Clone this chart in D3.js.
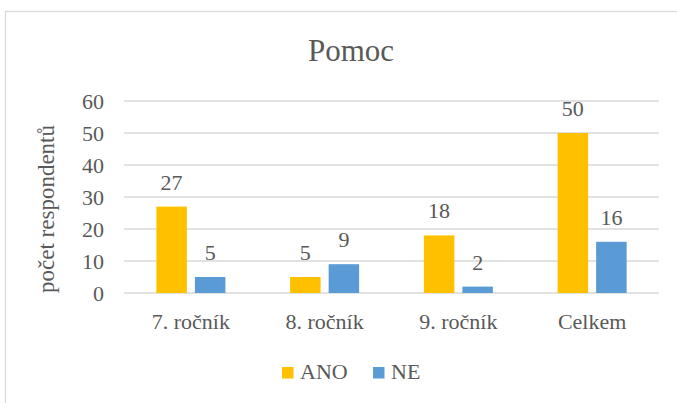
<!DOCTYPE html>
<html><head><meta charset="utf-8">
<script src="https://cdn.jsdelivr.net/npm/d3@7"></script>
<style>body{margin:0;background:#fff}svg{display:block}</style>
</head><body>
<script>
const categories = ["7. ročník", "8. ročník", "9. ročník", "Celkem"];
const seriesNames = ["ANO", "NE"];
const ano = [27, 5, 18, 50];
const ne = [5, 9, 2, 16];
const yTicks = [0, 10, 20, 30, 40, 50, 60];
const colors = ["#FFC000", "#5B9BD5"];
const title = "Pomoc";
const yTitle = "počet respondentů";

const TXT = "#595959";
const svg = d3.select("body").append("svg").attr("width", 677).attr("height", 403);
svg.append("rect").attr("x", 5.5).attr("y", 11.5).attr("width", 700).attr("height", 420)
  .attr("fill", "#fff").attr("stroke", "#D9D9D9").attr("stroke-width", 1.3);

const pL = 124, pR = 659, pT = 101, pB = 293;
const x = d3.scaleBand().domain(categories).range([pL, pR]);
const y = d3.scaleLinear().domain([0, 60]).range([pB, pT]);
const bw = x.bandwidth() * 0.228, gap = x.bandwidth() * 0.06;

svg.append("g").selectAll("line").data(yTicks).join("line")
  .attr("x1", pL).attr("x2", pR).attr("y1", d => y(d)).attr("y2", d => y(d))
  .attr("stroke", "#D9D9D9").attr("stroke-width", 1.3);

const gy = svg.append("g").attr("transform", `translate(${pL},0)`)
  .call(d3.axisLeft(y).tickValues(yTicks).tickSize(0).tickPadding(20));
gy.select(".domain").remove();
gy.selectAll("text").attr("dy", "0.35em").attr("class", "t22");

const gx = svg.append("g").attr("transform", `translate(0,${pB})`)
  .call(d3.axisBottom(x).tickSize(0).tickPadding(0));
gx.select(".domain").remove();
gx.selectAll("text").attr("dy", null).attr("y", 36).attr("class", "t22");

[ano, ne].forEach((vals, si) => {
  const off = si === 0 ? -gap / 2 - bw : gap / 2;
  const g = svg.append("g");
  g.selectAll("rect").data(vals).join("rect")
    .attr("x", (d, i) => x(categories[i]) + x.bandwidth() / 2 + off)
    .attr("width", bw)
    .attr("y", d => y(d)).attr("height", d => y(0) - y(d))
    .attr("fill", colors[si]);
  g.selectAll("text").data(vals).join("text")
    .attr("x", (d, i) => x(categories[i]) + x.bandwidth() / 2 + off + bw / 2)
    .attr("y", d => y(d) - 17)
    .attr("text-anchor", "middle").attr("class", "t22").text(d => d);
});

svg.append("text").attr("x", 351).attr("y", 61).attr("text-anchor", "middle")
  .attr("class", "t31").text(title);

svg.append("text").attr("transform", "translate(54,209) rotate(-90)")
  .attr("text-anchor", "middle").attr("class", "t23").text(yTitle);

const legX = [282, 373];
seriesNames.forEach((n, i) => {
  svg.append("rect").attr("x", legX[i]).attr("y", 367).attr("width", 11.5).attr("height", 11.5).attr("fill", colors[i]);
  svg.append("text").attr("x", legX[i] + 18).attr("y", 379).attr("class", "t22").text(n);
});

svg.selectAll("text").each(function () {
  const el = d3.select(this);
  const cls = el.attr("class");
  const size = cls === "t31" ? 31 : cls === "t23" ? 23 : 22;
  el.attr("fill", null)
    .style("font-family", `"Liberation Serif"`)
    .style("font-size", size + "px")
    .style("fill", TXT);
});
svg.selectAll("g").attr("font-family", null).attr("font-size", null);
</script>
</body></html>
